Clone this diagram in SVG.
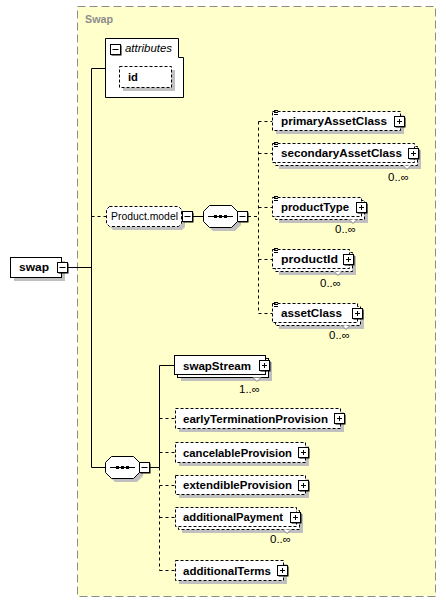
<svg xmlns="http://www.w3.org/2000/svg" width="446" height="602" viewBox="0 0 446 602">
<style>
text{font-family:"Liberation Sans",Arial,sans-serif;font-size:11px;fill:#000}
.b{font-weight:bold;font-size:11.5px}
.it{font-style:italic}
.ti{font-weight:bold;fill:#8c8c8c}
.box{fill:#fff;stroke:#000;stroke-width:1}
.d{stroke-dasharray:3 2}
.sh{fill:#c0c0c0}
.ln{stroke:#000;stroke-width:1;fill:none}
.dl{stroke:#000;stroke-width:1;fill:none;stroke-dasharray:3 3}
.nt{fill:#fff;stroke:#808080;stroke-width:1}
</style>
<defs>
<g id="plus"><rect x="1.5" y="1.5" width="10" height="10" fill="#000"/><rect x="0.5" y="0.5" width="10" height="10" fill="#fff" stroke="#000"/><path d="M3 5.5H8M5.5 3V8" stroke="#000"/></g>
<g id="minus"><rect x="1.5" y="1.5" width="10" height="10" fill="#000"/><rect x="0.5" y="0.5" width="10" height="10" fill="#fff" stroke="#000"/><path d="M2.5 5.5H8.5" stroke="#000"/></g>
<g id="tl"><path d="M1 0.5H5M1 2.5H5M1 4.5H5" stroke="#000"/></g>
</defs>
<rect x="77.5" y="6.5" width="358" height="590" fill="#ffffcc" stroke="#8c8c8c" stroke-dasharray="8 4"/>
<text class="ti" x="85" y="23" textLength="28" lengthAdjust="spacingAndGlyphs">Swap</text>

<g id="connectors">
<path class="ln" d="M67 267.5H91.5M91.5 68.5V467.5M91.5 68.5H105.5M91.5 467.5H105.5"/>
<path class="dl" d="M91.5 216.5H106.5"/>
<path class="ln" d="M193 216.5H203.5"/>
<path class="dl" d="M248 216.5H258.5M258.5 121.5V313.5M258.5 121.5H272.5M258.5 153.5H272.5M258.5 207.5H272.5M258.5 259.5H272.5M258.5 313.5H272.5"/>
<path class="ln" d="M150 467.5H159.5M159.5 365.5V467.5M159.5 365.5H174.5"/>
<path class="dl" d="M159.5 467.5V570.5M159.5 418.5H175.5M159.5 452.5H175.5M159.5 485.5H175.5M159.5 517.5H175.5M159.5 570.5H175.5"/>
</g>

<g id="swap">
<rect class="sh" x="14" y="261" width="51" height="20"/>
<rect class="box" x="10.5" y="257.5" width="51" height="20"/>
<text class="b" x="19" y="271" textLength="30" lengthAdjust="spacingAndGlyphs">swap</text>
<use href="#minus" x="57" y="262"/>
</g>

<g id="attributes">
<path class="box" d="M105.5 38.5H178.5V57.5H183.5V97.5H105.5Z"/>
<use href="#minus" x="110" y="44"/>
<text class="it" x="125" y="52" textLength="47" lengthAdjust="spacingAndGlyphs">attributes</text>
</g>

<g id="id">
<rect class="sh" x="123" y="70" width="52" height="21"/>
<rect class="box d" x="119.5" y="66.5" width="52" height="21"/>
<text class="b" x="128" y="81" textLength="10" lengthAdjust="spacingAndGlyphs">id</text>
</g>

<g id="productModel">
<path class="sh" d="M113 210H182L185 213V227L182 230H113L110 227V213Z"/>
<path class="box d" d="M109.5 206.5H178.5L181.5 209.5V223.5L178.5 226.5H109.5L106.5 223.5V209.5Z"/>
<text x="111" y="220" textLength="67" lengthAdjust="spacingAndGlyphs">Product.model</text>
<use href="#minus" x="182" y="211"/>
</g>

<g id="seq1">
<path class="sh" d="M213 209H235L241 215V225L235 231H213L207 225V215Z"/>
<path class="box" d="M209.5 205.5H231.5L237.5 211.5V221.5L231.5 227.5H209.5L203.5 221.5V211.5Z"/>
<path class="ln" d="M208 216.5H233"/>
<rect x="214" y="215" width="3" height="3"/><rect x="219" y="215" width="3" height="3"/><rect x="224" y="215" width="3" height="3"/>
<use href="#minus" x="237" y="211"/>
</g>

<g id="primaryAssetClass">
<rect class="sh" x="276" y="115" width="128" height="19"/>
<rect class="box d" x="272.5" y="111.5" width="128" height="19"/>
<use href="#tl" x="273" y="110"/>
<text class="b" x="281" y="125" textLength="106" lengthAdjust="spacingAndGlyphs">primaryAssetClass</text>
<use href="#plus" x="394" y="116"/>
</g>

<g id="secondaryAssetClass">
<rect class="sh" x="279" y="150" width="142" height="19"/>
<rect class="box d" x="275.5" y="146.5" width="142" height="19"/>
<rect class="box d" x="272.5" y="143.5" width="142" height="19"/>
<use href="#tl" x="273" y="142"/>
<text class="b" x="281" y="157" textLength="121" lengthAdjust="spacingAndGlyphs">secondaryAssetClass</text>
<use href="#plus" x="408" y="148"/>
<path class="nt" d="M403 165.5L407 169.5L411 165.5"/>
<text x="388" y="181" textLength="21" lengthAdjust="spacingAndGlyphs">0..∞</text>
</g>

<g id="productType">
<rect class="sh" x="279" y="204" width="89" height="19"/>
<rect class="box d" x="275.5" y="200.5" width="89" height="19"/>
<rect class="box d" x="272.5" y="197.5" width="89" height="19"/>
<use href="#tl" x="273" y="196"/>
<text class="b" x="281" y="211" textLength="68" lengthAdjust="spacingAndGlyphs">productType</text>
<use href="#plus" x="356" y="202"/>
<path class="nt" d="M349 219.5L353 223.5L357 219.5"/>
<text x="335" y="233" textLength="21" lengthAdjust="spacingAndGlyphs">0..∞</text>
</g>

<g id="productId">
<rect class="sh" x="279" y="256" width="77" height="19"/>
<rect class="box d" x="275.5" y="252.5" width="77" height="19"/>
<rect class="box d" x="272.5" y="249.5" width="77" height="19"/>
<use href="#tl" x="273" y="248"/>
<text class="b" x="281" y="263" textLength="57" lengthAdjust="spacingAndGlyphs">productId</text>
<use href="#plus" x="343" y="254"/>
<path class="nt" d="M334 271.5L338 275.5L342 271.5"/>
<text x="320" y="287" textLength="21" lengthAdjust="spacingAndGlyphs">0..∞</text>
</g>

<g id="assetClass">
<rect class="sh" x="279" y="310" width="85" height="19"/>
<rect class="box d" x="275.5" y="306.5" width="85" height="19"/>
<rect class="box d" x="272.5" y="303.5" width="85" height="19"/>
<use href="#tl" x="273" y="302"/>
<text class="b" x="281" y="317" textLength="61" lengthAdjust="spacingAndGlyphs">assetClass</text>
<use href="#plus" x="352" y="308"/>
<path class="nt" d="M342 325.5L346 329.5L350 325.5"/>
<text x="329" y="339" textLength="21" lengthAdjust="spacingAndGlyphs">0..∞</text>
</g>

<g id="seq2">
<path class="sh" d="M115 460H137L143 466V476L137 482H115L109 476V466Z"/>
<path class="box" d="M111.5 456.5H133.5L139.5 462.5V472.5L133.5 478.5H111.5L105.5 472.5V462.5Z"/>
<path class="ln" d="M110 467.5H135"/>
<rect x="116" y="466" width="3" height="3"/><rect x="121" y="466" width="3" height="3"/><rect x="126" y="466" width="3" height="3"/>
<use href="#minus" x="139" y="462"/>
</g>

<g id="swapStream">
<rect class="sh" x="181" y="362" width="91" height="19"/>
<rect class="box" x="177.5" y="358.5" width="91" height="19"/>
<rect class="box" x="174.5" y="355.5" width="91" height="19"/>
<text class="b" x="183" y="370" textLength="68" lengthAdjust="spacingAndGlyphs">swapStream</text>
<use href="#plus" x="259" y="360"/>
<path class="nt" d="M253 377.5L257 381.5L261 377.5"/>
<text x="239" y="393" textLength="21" lengthAdjust="spacingAndGlyphs">1..∞</text>
</g>

<g id="earlyTerminationProvision">
<rect class="sh" x="179" y="412" width="165" height="20"/>
<rect class="box d" x="175.5" y="408.5" width="165" height="20"/>
<text class="b" x="183" y="423" textLength="145" lengthAdjust="spacingAndGlyphs">earlyTerminationProvision</text>
<use href="#plus" x="334" y="413"/>
</g>

<g id="cancelableProvision">
<rect class="sh" x="179" y="446" width="130" height="20"/>
<rect class="box d" x="175.5" y="442.5" width="130" height="20"/>
<text class="b" x="183" y="457" textLength="109" lengthAdjust="spacingAndGlyphs">cancelableProvision</text>
<use href="#plus" x="298" y="447"/>
</g>

<g id="extendibleProvision">
<rect class="sh" x="179" y="479" width="130" height="19"/>
<rect class="box d" x="175.5" y="475.5" width="130" height="19"/>
<text class="b" x="183" y="489" textLength="109" lengthAdjust="spacingAndGlyphs">extendibleProvision</text>
<use href="#plus" x="298" y="480"/>
</g>

<g id="additionalPayment">
<rect class="sh" x="182" y="514" width="121" height="19"/>
<rect class="box d" x="178.5" y="510.5" width="121" height="19"/>
<rect class="box d" x="175.5" y="507.5" width="121" height="19"/>
<text class="b" x="183" y="521" textLength="100" lengthAdjust="spacingAndGlyphs">additionalPayment</text>
<use href="#plus" x="290" y="512"/>
<path class="nt" d="M283 529.5L287 533.5L291 529.5"/>
<text x="270" y="543" textLength="21" lengthAdjust="spacingAndGlyphs">0..∞</text>
</g>

<g id="additionalTerms">
<rect class="sh" x="179" y="564" width="108" height="20"/>
<rect class="box d" x="175.5" y="560.5" width="108" height="20"/>
<text class="b" x="183" y="575" textLength="88" lengthAdjust="spacingAndGlyphs">additionalTerms</text>
<use href="#plus" x="277" y="565"/>
</g>
</svg>
